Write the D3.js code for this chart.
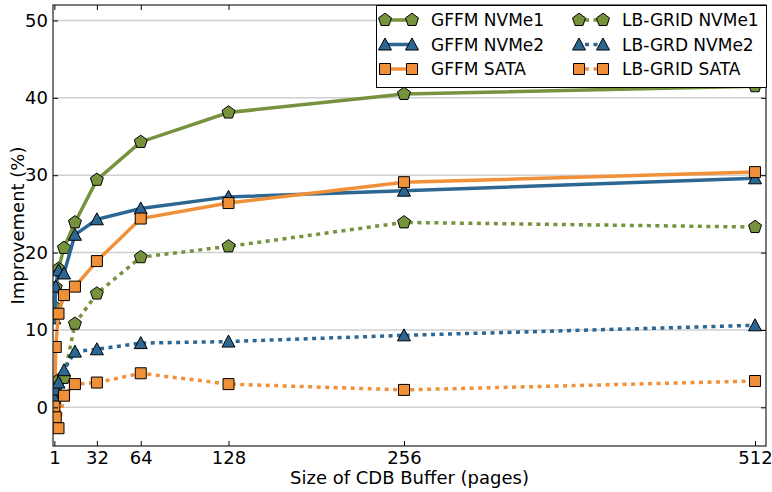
<!DOCTYPE html>
<html>
<head>
<meta charset="utf-8">
<script src="https://cdn.jsdelivr.net/npm/d3@7"></script>
<style>
  body { margin: 0; background: #fff; }
  svg { display: block; font-family: "DejaVu Sans", sans-serif; }
</style>
</head>
<body>
<div id="chart"></div>
<script>
"use strict";

// buffer sizes (pages) on the x axis
var bufferSizes = [1, 2, 4, 8, 16, 32, 64, 128, 256, 512];
var xTicks = [1, 32, 64, 128, 256, 512];
var yTicks = [0, 10, 20, 30, 40, 50];

// improvement (%) per series
var gffmNvme1 = [13.0, 15.5, 17.9, 20.6, 23.9, 29.4, 34.3, 38.1, 40.5, 41.5];
var gffmNvme2 = [11.5, 15.6, 17.7, 17.3, 22.3, 24.3, 25.7, 27.2, 28.0, 29.6];
var gffmSata  = [-1.0, 7.8, 12.1, 14.5, 15.6, 18.9, 24.4, 26.4, 29.1, 30.4];
var lbNvme1   = [1.5, 2.5, 3.5, 3.8, 10.8, 14.7, 19.4, 20.8, 23.9, 23.3];
var lbNvme2   = [1.2, 2.3, 3.2, 4.8, 7.2, 7.5, 8.3, 8.5, 9.3, 10.6];
var lbSata    = [0.1, -1.3, -2.7, 1.5, 3.0, 3.2, 4.4, 3.0, 2.25, 3.4];

var seriesNames = ["GFFM NVMe1", "GFFM NVMe2", "GFFM SATA",
                   "LB-GRID NVMe1", "LB-GRD NVMe2", "LB-GRID SATA"];

var green = "#76923c", blue = "#2c6794", orange = "#f0913a";

var series = [
  {name: seriesNames[0], values: gffmNvme1, color: green,  marker: "pentagon", dotted: false},
  {name: seriesNames[1], values: gffmNvme2, color: blue,   marker: "triangle", dotted: false},
  {name: seriesNames[2], values: gffmSata,  color: orange, marker: "square",   dotted: false},
  {name: seriesNames[3], values: lbNvme1,   color: green,  marker: "pentagon", dotted: true},
  {name: seriesNames[4], values: lbNvme2,   color: blue,   marker: "triangle", dotted: true},
  {name: seriesNames[5], values: lbSata,    color: orange, marker: "square",   dotted: true}
];

var width = 772, height = 492;
var margin = {top: 5, right: 6, bottom: 46, left: 53};
var innerW = width - margin.left - margin.right;
var innerH = height - margin.top - margin.bottom;

var x = d3.scaleLinear().domain([0, 520]).range([0, innerW]);
var y = d3.scaleLinear().domain([-5, 52]).range([innerH, 0]);

// marker paths centred on 0,0
function markerPath(kind) {
  if (kind === "square") {
    return "M-5.5,-5.5H5.5V5.5H-5.5Z";
  }
  if (kind === "triangle") {
    return "M0,-6.5L6.5,5.5L-6.5,5.5Z";
  }
  var r = 6.8, pts = [];
  for (var i = 0; i < 5; i++) {
    var a = -Math.PI / 2 + i * 2 * Math.PI / 5;
    pts.push([r * Math.cos(a), r * Math.sin(a)]);
  }
  return "M" + pts.map(function (p) { return p[0].toFixed(2) + "," + p[1].toFixed(2); }).join("L") + "Z";
}

var svg = d3.select("#chart").append("svg")
  .attr("width", width)
  .attr("height", height);

var g = svg.append("g")
  .attr("transform", "translate(" + margin.left + "," + margin.top + ")");

g.append("clipPath").attr("id", "plotclip")
  .append("rect").attr("width", innerW).attr("height", innerH);

// horizontal grid
g.append("g").selectAll("line").data(yTicks).enter().append("line")
  .attr("x1", 0).attr("x2", innerW)
  .attr("y1", function (d) { return y(d); })
  .attr("y2", function (d) { return y(d); })
  .attr("stroke", "#cfcfcf")
  .attr("stroke-width", 1.5);

var line = d3.line()
  .x(function (d) { return x(d[0]); })
  .y(function (d) { return y(d[1]); });

var plot = g.append("g").attr("clip-path", "url(#plotclip)");

series.forEach(function (s) {
  var pts = bufferSizes.map(function (b, i) { return [b, s.values[i]]; });
  var sg = plot.append("g");
  sg.append("path")
    .attr("d", line(pts))
    .attr("fill", "none")
    .attr("stroke", s.color)
    .attr("stroke-width", 3.5)
    .attr("stroke-dasharray", s.dotted ? "4,4.5" : null);
  sg.selectAll("path.mk").data(pts).enter().append("path")
    .attr("class", "mk")
    .attr("d", markerPath(s.marker))
    .attr("transform", function (d) { return "translate(" + x(d[0]) + "," + y(d[1]) + ")"; })
    .attr("fill", s.color)
    .attr("stroke", "#000")
    .attr("stroke-width", 1);
});

// axes, ticks pointing inward
function styleAxis(sel) {
  sel.select(".domain").remove();
  sel.selectAll(".tick line").attr("stroke", "#000").attr("stroke-width", 1);
  sel.selectAll("text").attr("fill", "#000").style("font-size", "18px").style("font-family", "DejaVu Sans");
}

g.append("g")
  .attr("transform", "translate(0," + innerH + ")")
  .call(d3.axisBottom(x).tickValues(xTicks).tickSizeInner(-5).tickSizeOuter(0).tickPadding(5))
  .call(styleAxis);

g.append("g")
  .call(d3.axisTop(x).tickValues(xTicks).tickSizeInner(-5).tickSizeOuter(0).tickFormat(""))
  .call(styleAxis);

g.append("g")
  .call(d3.axisLeft(y).tickValues(yTicks).tickSizeInner(-5).tickSizeOuter(0).tickPadding(5))
  .call(styleAxis);

g.append("g")
  .attr("transform", "translate(" + innerW + ",0)")
  .call(d3.axisRight(y).tickValues(yTicks).tickSizeInner(-5).tickSizeOuter(0).tickFormat(""))
  .call(styleAxis);

// frame
g.append("rect")
  .attr("width", innerW).attr("height", innerH)
  .attr("fill", "none")
  .attr("stroke", "#222")
  .attr("stroke-width", 1.2);

// axis labels
svg.append("text")
  .attr("x", margin.left + innerW / 2)
  .attr("y", 484)
  .attr("text-anchor", "middle")
  .style("font-size", "18px")
  .text("Size of CDB Buffer (pages)");

svg.append("text")
  .attr("transform", "translate(24," + (margin.top + innerH / 2) + ") rotate(-90)")
  .attr("text-anchor", "middle")
  .style("font-size", "18px")
  .text("Improvement (%)");

// legend, two columns of three
var legend = svg.append("g");
legend.append("rect")
  .attr("x", 376.5).attr("y", 5.5)
  .attr("width", 390).attr("height", 82)
  .attr("fill", "#fff")
  .attr("stroke", "#000")
  .attr("stroke-width", 1);

series.forEach(function (s, i) {
  var col = Math.floor(i / 3), row = i % 3;
  var x0 = col === 0 ? 385 : 579;
  var x1 = col === 0 ? 412 : 603;
  var ly = 20 + row * 24.5;
  var lg = legend.append("g");
  lg.append("line")
    .attr("x1", x0).attr("x2", x1)
    .attr("y1", ly).attr("y2", ly)
    .attr("stroke", s.color)
    .attr("stroke-width", 3.5)
    .attr("stroke-dasharray", s.dotted ? "4,4.5" : null)
    .attr("stroke-dashoffset", s.dotted ? -6 : null);
  [x0, x1].forEach(function (mx) {
    lg.append("path")
      .attr("d", markerPath(s.marker))
      .attr("transform", "translate(" + mx + "," + ly + ")")
      .attr("fill", s.color)
      .attr("stroke", "#000")
      .attr("stroke-width", 1);
  });
  lg.append("text")
    .attr("x", col === 0 ? 431 : 622)
    .attr("y", ly + 6)
    .style("font-size", "17px")
    .text(s.name);
});
</script>
</body>
</html>
